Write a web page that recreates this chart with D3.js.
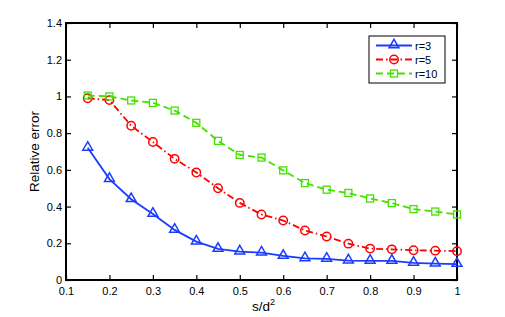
<!DOCTYPE html>
<html>
<head>
<meta charset="utf-8">
<script src="https://cdn.jsdelivr.net/npm/d3@7"></script>
<style>
  html, body { margin: 0; padding: 0; background: #fff; }
  svg { display: block; font-family: "Liberation Sans", Arial, sans-serif; }
</style>
</head>
<body>
<div id="chart"></div>
<script>
// x positions (s/d^2)
const xs = [0.15, 0.2, 0.25, 0.3, 0.35, 0.4, 0.45, 0.5, 0.55, 0.6, 0.65, 0.7, 0.75, 0.8, 0.85, 0.9, 0.95, 1.0];

// series values
const r3 = [0.72, 0.55, 0.44, 0.36, 0.273, 0.209, 0.169, 0.155, 0.149, 0.131, 0.118, 0.115, 0.106, 0.104, 0.104, 0.093, 0.089, 0.087];
const r5 = [0.99, 0.98, 0.84, 0.752, 0.66, 0.586, 0.50, 0.42, 0.357, 0.324, 0.27, 0.237, 0.198, 0.171, 0.167, 0.162, 0.16, 0.157];
const r10 = [1.005, 1.0, 0.978, 0.965, 0.923, 0.856, 0.758, 0.681, 0.667, 0.597, 0.528, 0.492, 0.474, 0.444, 0.419, 0.386, 0.373, 0.357];

const xTicks = [0.1, 0.2, 0.3, 0.4, 0.5, 0.6, 0.7, 0.8, 0.9, 1];
const yTicks = [0, 0.2, 0.4, 0.6, 0.8, 1, 1.2, 1.4];

const series = [
  { name: 'r=3', values: r3, color: '#1a3cff', dash: null, marker: 'triangle' },
  { name: 'r=5', values: r5, color: '#ff0000', dash: '7,3,1.5,3', marker: 'circle' },
  { name: 'r=10', values: r10, color: '#44e000', dash: '7,4', marker: 'square' }
];

const W = 505, H = 317;
const plot = { left: 66, right: 457, top: 23, bottom: 280 };

const svg = d3.select('#chart').append('svg')
    .attr('width', W)
    .attr('height', H);

const x = d3.scaleLinear().domain([0.1, 1]).range([plot.left, plot.right]);
const y = d3.scaleLinear().domain([0, 1.4]).range([plot.bottom, plot.top]);

const fmt = d => d3.format('')(+d.toFixed(1));

// axes, ticks pointing inward (box style)
const tickLen = 5;
svg.append('g')
    .attr('transform', `translate(0,${plot.bottom})`)
    .call(d3.axisBottom(x).tickValues(xTicks).tickSizeInner(-tickLen).tickSizeOuter(0).tickPadding(7).tickFormat(fmt));
svg.append('g')
    .attr('transform', `translate(0,${plot.top})`)
    .call(d3.axisTop(x).tickValues(xTicks).tickSizeInner(-tickLen).tickSizeOuter(0).tickFormat(''));
svg.append('g')
    .attr('transform', `translate(${plot.left},0)`)
    .call(d3.axisLeft(y).tickValues(yTicks).tickSizeInner(-tickLen).tickSizeOuter(0).tickPadding(4).tickFormat(fmt));
svg.append('g')
    .attr('transform', `translate(${plot.right},0)`)
    .call(d3.axisRight(y).tickValues(yTicks).tickSizeInner(-tickLen).tickSizeOuter(0).tickFormat(''));

svg.selectAll('.domain').remove();
svg.selectAll('.tick line').attr('stroke', '#000').attr('stroke-width', 1.2);
svg.selectAll('.tick text')
    .attr('fill', '#000')
    .style('font-size', '11px')
    .style('font-family', '"Liberation Sans", Arial, sans-serif');

// box
svg.append('rect')
    .attr('x', plot.left)
    .attr('y', plot.top)
    .attr('width', plot.right - plot.left)
    .attr('height', plot.bottom - plot.top)
    .attr('fill', 'none')
    .attr('stroke', '#000')
    .attr('stroke-width', 2);

// axis labels
svg.append('text')
    .attr('transform', `translate(39,${(plot.top + plot.bottom) / 2}) rotate(-90)`)
    .attr('text-anchor', 'middle')
    .style('font-size', '13.5px')
    .text('Relative error');

const xl = svg.append('text')
    .attr('x', (plot.left + plot.right) / 2 + 2)
    .attr('y', 311)
    .attr('text-anchor', 'middle')
    .style('font-size', '13.5px');
xl.append('tspan').text('s/d');
xl.append('tspan').attr('dy', -6).style('font-size', '9px').text('2');

function drawMarker(g, type, color) {
  if (type === 'triangle') {
    g.append('path')
      .attr('d', d3.symbol().type(d3.symbolTriangle).size(42)())
      .attr('transform', 'translate(0,-0.5)')
      .attr('fill', 'none').attr('stroke', color).attr('stroke-width', 1.5);
  } else if (type === 'circle') {
    g.append('circle').attr('r', 4.2)
      .attr('fill', 'none').attr('stroke', color).attr('stroke-width', 1.5);
  } else {
    g.append('rect').attr('x', -3.5).attr('y', -3.5).attr('width', 7).attr('height', 7)
      .attr('fill', 'none').attr('stroke', color).attr('stroke-width', 1.3);
  }
}

const line = d3.line().x(d => x(d[0])).y(d => y(d[1]));

series.forEach(s => {
  const pts = xs.map((v, i) => [v, s.values[i]]);
  svg.append('path')
      .datum(pts)
      .attr('d', line)
      .attr('fill', 'none')
      .attr('stroke', s.color)
      .attr('stroke-width', 1.8)
      .attr('stroke-dasharray', s.dash);
  pts.forEach(p => {
    const g = svg.append('g').attr('transform', `translate(${x(p[0])},${y(p[1])})`);
    drawMarker(g, s.marker, s.color);
  });
});

// legend
const legend = svg.append('g').attr('transform', 'translate(369,36)');
legend.append('rect')
    .attr('width', 76).attr('height', 47)
    .attr('fill', '#fff').attr('stroke', '#000').attr('stroke-width', 1);

series.forEach((s, i) => {
  const ly = 9.5 + i * 14;
  legend.append('line')
      .attr('x1', 7).attr('x2', 43).attr('y1', ly).attr('y2', ly)
      .attr('stroke', s.color).attr('stroke-width', 1.8)
      .attr('stroke-dasharray', s.dash);
  const g = legend.append('g').attr('transform', `translate(25,${ly})`);
  drawMarker(g, s.marker, s.color);
  legend.append('text')
      .attr('x', 46).attr('y', ly + 4)
      .style('font-size', '11px')
      .text(s.name);
});
</script>
</body>
</html>
